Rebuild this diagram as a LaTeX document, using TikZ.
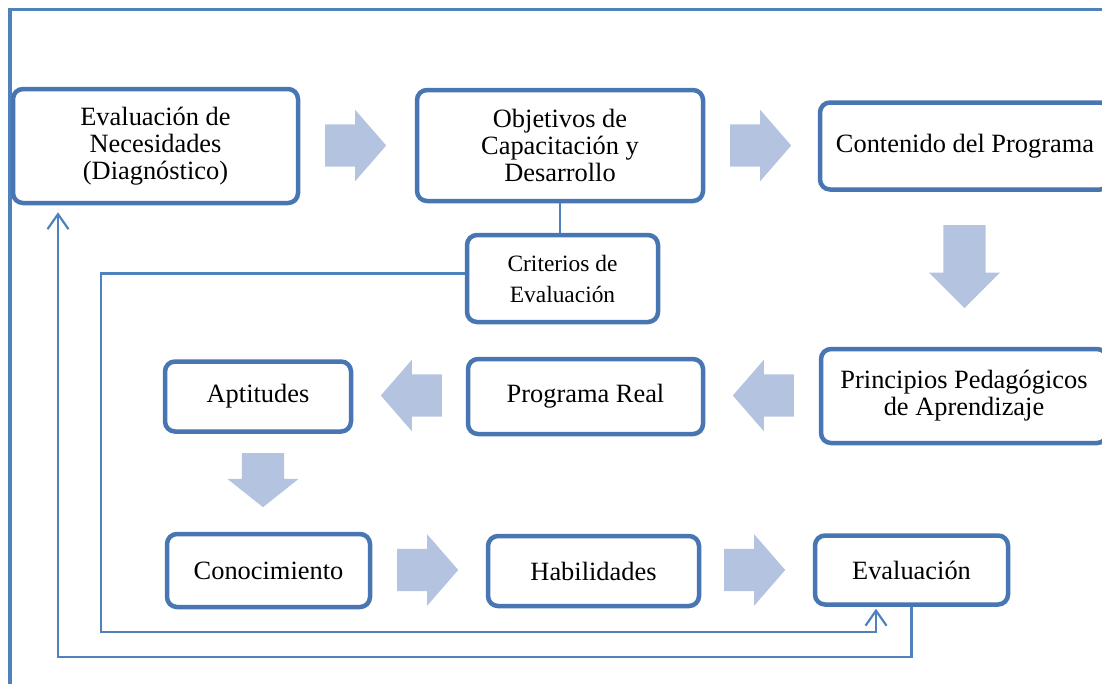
\documentclass[tikz,border=0pt]{standalone}
\usepackage{fontspec}
\setmainfont{Liberation Serif}
\usepackage{xcolor}
\usetikzlibrary{shapes.arrows,arrows.meta,positioning}

\definecolor{boxblue}{RGB}{72,118,178}
\definecolor{lineblue}{RGB}{79,129,189}
\definecolor{flowfill}{RGB}{180,196,224}

\begin{document}
\begin{tikzpicture}[
    x=1pt, y=-1pt,
    stage/.style={rectangle, rounded corners=10pt, draw=boxblue, line width=4.5pt, fill=white,
        align=center, inner sep=0pt, font=\fontsize{26.4}{27}\selectfont},
    critbox/.style={stage, font=\fontsize{23.4}{31}\selectfont},
    flow/.style={single arrow, fill=flowfill, draw=none, inner xsep=0pt, inner ysep=21pt, anchor=tail,
        single arrow head extend=14.5pt, minimum height=61pt, single arrow tip angle=98},
    conn/.style={draw=lineblue, line width=2.2pt},
    >={Straight Barb[length=15pt,width=21pt]}
]
\useasboundingbox (0,0) rectangle (1102,683);
\clip (0,0) rectangle (1102,683);

% marco
\draw[draw=lineblue, line width=3.5pt] (10,700) -- (10,9.5) -- (1120,9.5);

% etapas
\node[stage, minimum width=285pt, minimum height=114pt] (diag) at (155.5,146) {Evaluación de\\Necesidades\\(Diagnóstico)};
\node[stage, minimum width=286pt, minimum height=111pt] (obj) at (560,145.5) {Objetivos de\\Capacitación y\\Desarrollo};
\node[stage, minimum width=290pt, minimum height=87pt] (cont) at (965,146) {Contenido del Programa};
\node[stage, minimum width=286pt, minimum height=94pt] (princ) at (964,396) {Principios Pedagógicos\\de Aprendizaje};
\node[stage, minimum width=235pt, minimum height=75pt] (real) at (585.5,396.5) {Programa Real};
\node[stage, minimum width=186pt, minimum height=70pt] (apt) at (258,396.5) {Aptitudes};
\node[stage, minimum width=203pt, minimum height=73pt] (conoc) at (268.5,570.5) {Conocimiento};
\node[stage, minimum width=211pt, minimum height=70pt] (habil) at (593.5,571) {Habilidades};
\node[stage, minimum width=193pt, minimum height=69pt] (eval) at (911.5,570) {Evaluación};
\node[critbox, minimum width=191pt, minimum height=87pt] (crit) at (562.5,278.5) {Criterios de\\Evaluación};

% flechas de bloque
\node[flow] (f1) at (325,145.5) {};
\node[flow] (f2) at (730,145.5) {};
\node[flow, rotate=-90, minimum height=83pt, single arrow tip angle=90] (f3) at (964.5,225) {};
\node[flow, rotate=180] (f4) at (794,395.5) {};
\node[flow, rotate=180] (f5) at (442,395.5) {};
\node[flow, rotate=-90, minimum height=54pt, single arrow tip angle=103] (f6) at (263,453) {};
\node[flow] (f7) at (397,570) {};
\node[flow] (f8) at (724,570) {};

% conectores
\coordinate (critcorner) at (101,632);
\coordinate (evalin) at (876,632);
\coordinate (backcorner) at (58,657);
\draw[conn] (obj.south) -- (obj.south |- crit.north);
\draw[conn, ->, shorten >=2pt] ([yshift=5pt]crit.west) -| (critcorner) -- (evalin) -- (evalin |- eval.south);
\draw[conn, ->, shorten >=7pt] (eval.south) |- (backcorner) -- (backcorner |- diag.south);

\end{tikzpicture}
\end{document}
